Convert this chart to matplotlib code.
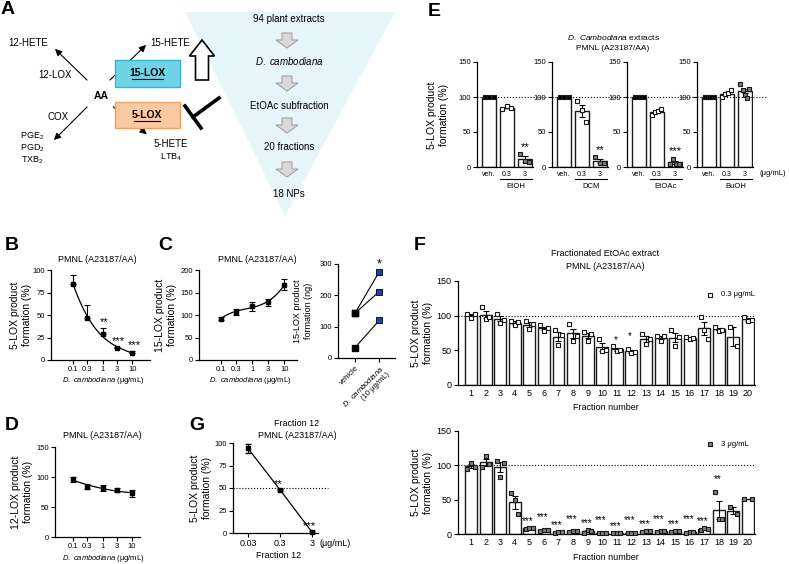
import numpy as np
import matplotlib
matplotlib.use('Agg')
import matplotlib.pyplot as plt
from matplotlib.patches import Polygon, FancyBboxPatch, FancyArrow
from matplotlib.ticker import NullLocator

plt.rcParams['font.family'] = ['Liberation Sans', 'DejaVu Sans']
plt.rcParams['mathtext.fontset'] = 'custom'
plt.rcParams['mathtext.rm'] = 'Liberation Sans'
plt.rcParams['mathtext.it'] = 'Liberation Sans:italic'
plt.rcParams['mathtext.default'] = 'regular'
plt.rcParams['axes.linewidth'] = 0.9

# ---- data ----
conc = [0.1, 0.3, 1, 3, 10]
conc_labels = ['0.1', '0.3', '1', '3', '10']
b_mean = [85, 47, 29, 13, 8]
b_err = [10, 14, 7, 2, 2]
b_sig = ['', '', '**', '***', '***']
c_mean = [92, 106, 120, 128, 167]
c_err = [3, 7, 10, 7, 12]
c_vehicle = [143, 143, 33]
c_dcam = [275, 212, 120]
d_mean = [96, 84, 82, 78, 73]
d_err = [4, 4, 5, 3, 6]
g_conc = [0.03, 0.3, 3]
g_labels = ['0.03', '0.3', '3']
g_mean = [94, 48, 1]
g_err = [5, 1, 1]
g_sig = ['', '**', '***']

e_groups = ['EtOH', 'DCM', 'EtOAc', 'BuOH']
e_veh = [[100, 100, 100], [100, 100, 100], [100, 100, 100, 100], [100, 100, 100, 100, 100]]
e_low = [[83, 87, 85], [94, 81, 65], [75, 78, 80, 83], [100, 104, 106, 110]]
e_high = [[19, 8, 7], [14, 6, 6], [5, 12, 5, 5], [119, 110, 103, 99, 112]]
e_sig = ['**', '**', '***', '']
e_ticks = ['veh.', '0.3', '3']

fractions = list(range(1, 21))
f_low = [[103, 97, 103], [112, 95, 98], [103, 90, 94], [93, 86, 91], [92, 81, 88],
         [86, 78, 82], [79, 58, 72], [88, 64, 71], [76, 64, 74], [67, 49, 50],
         [56, 49, 50], [52, 46, 47], [74, 59, 66], [71, 64, 70], [79, 56, 69],
         [69, 66, 68], [98, 80, 67], [83, 78, 80], [83, 56], [98, 92, 94]]
f_low_sig = [''] * 10 + ['*', '*'] + [''] * 8
f_high = [[95, 104, 97], [97, 114, 102], [106, 83, 104], [60, 49, 29], [7, 9, 9],
          [5, 6, 6], [2, 3, 3], [3, 4, 4], [2, 6, 4], [1, 2, 2],
          [1, 2, 1], [1, 2, 2], [3, 5, 4], [3, 4, 4], [3, 5, 4],
          [2, 3, 3], [6, 9, 8], [61, 22, 22], [39, 29], [51, 51]]
f_high_sig = [''] * 4 + ['***'] * 13 + ['**', '', '']

W, H = 789, 564
fig = plt.figure(figsize=(W / 100, H / 100), dpi=100)


def box(x0, x1, y0, y1):
    return fig.add_axes([x0 / W, 1 - y1 / H, (x1 - x0) / W, (y1 - y0) / H])


def txt(x, y, s, **kw):
    kw.setdefault('ha', 'center')
    kw.setdefault('va', 'center')
    fig.text(x / W, 1 - y / H, s, **kw)


def style(ax, size=5.5):
    ax.spines['top'].set_visible(False)
    ax.spines['right'].set_visible(False)
    ax.tick_params(labelsize=size, length=3, width=0.8, pad=1.5)


# ---- panel A (diagram) ----
a = fig.add_axes([0, 0, 1, 1], zorder=-1)
a.set_xlim(0, W)
a.set_ylim(H, 0)
a.axis('off')
a.add_patch(Polygon([[185, 12], [395, 12], [285, 216]], closed=True, fc='#e6f5f8', ec='none'))
for s, y in [('94 plant extracts', 19), ('$\\it{D.\\ cambodiana}$', 61),
             ('EtOAc subfraction', 106), ('20 fractions', 147), ('18 NPs', 194)]:
    a.text(289, y, s, ha='center', va='center', fontsize=7)
for y in [33, 76, 118, 162]:
    a.add_patch(FancyArrow(287, y, 0, 15, width=10, head_width=22, head_length=8,
                           length_includes_head=True, fc='#d9d9d9', ec='#9a9a9a', lw=0.7))
a.add_patch(FancyArrow(202, 80, 0, -40, width=13, head_width=25, head_length=16,
                       length_includes_head=True, fc='white', ec='black', lw=1.2))
a.plot([219, 193], [98, 117], color='k', lw=2.6)
a.plot([185, 201], [106, 128], color='k', lw=2.6)
arrow = dict(arrowstyle='-|>', color='black', lw=0.8, mutation_scale=10)
for xy, xyt in [((53, 47), (89, 82)), ((148, 43), (108, 82)),
                ((52, 142), (89, 105)), ((149, 136), (111, 105))]:
    a.annotate('', xy=xy, xytext=xyt, arrowprops=arrow)
a.add_patch(FancyBboxPatch((115, 60), 65, 27, boxstyle='square,pad=0', fc='#6fd4e6', ec='#34b6ce', lw=1, zorder=3))
a.add_patch(FancyBboxPatch((115, 102), 65, 26, boxstyle='square,pad=0', fc='#fbc9a2', ec='#f0a264', lw=1, zorder=3))
a.text(147, 73, '15-LOX', ha='center', va='center', fontsize=7.5, fontweight='bold', zorder=4)
a.plot([132, 163], [79, 79], color='k', lw=0.8, zorder=4)
a.text(147, 115, '5-LOX', ha='center', va='center', fontsize=7.5, fontweight='bold', zorder=4)
a.plot([134, 160], [121, 121], color='k', lw=0.8, zorder=4)
a.text(28, 43, '12-HETE', ha='center', va='center', fontsize=7)
a.text(55, 75, '12-LOX', ha='center', va='center', fontsize=7)
a.text(101, 96, 'AA', ha='center', va='center', fontsize=7.5, fontweight='bold')
a.text(170, 43, '15-HETE', ha='center', va='center', fontsize=7)
a.text(58, 117, 'COX', ha='center', va='center', fontsize=7)
for s, y in [('PGE$_2$', 136), ('PGD$_2$', 148), ('TXB$_2$', 160)]:
    a.text(32, y, s, ha='center', va='center', fontsize=6.5)
a.text(171, 144, '5-HETE', ha='center', va='center', fontsize=7)
a.text(171, 157, 'LTB$_4$', ha='center', va='center', fontsize=6.5)


# ---- panels B, C, D, G ----
def dose_panel(ax, mean, err, ylim, yticks, upper_only=False, deg=3):
    style(ax)
    ax.set_xscale('log')
    lo = np.zeros(len(err)) if upper_only else err
    ax.errorbar(conc, mean, yerr=[lo, err], fmt='s', color='k', ms=3.5,
                capsize=2, elinewidth=0.8, capthick=0.8, clip_on=False, zorder=3)
    p = np.polyfit(np.log10(conc), mean, deg)
    xs = np.logspace(np.log10(conc[0]), np.log10(conc[-1]), 100)
    ax.plot(xs, np.polyval(p, np.log10(xs)), color='k', lw=0.9)
    ax.set_ylim(*ylim)
    ax.set_yticks(yticks)
    ax.set_xticks(conc)
    ax.set_xticklabels(conc_labels)
    ax.xaxis.set_minor_locator(NullLocator())


axb = box(51, 150, 270, 360)
dose_panel(axb, b_mean, b_err, (0, 100), [0, 25, 50, 75, 100], upper_only=True)
axb.set_xlim(0.018, 40)
for x, m, e, s in zip(conc, b_mean, b_err, b_sig):
    if s:
        axb.text(x * 1.15, m + e + 1, s, ha='center', va='bottom', fontsize=8)

axc = box(199, 297, 270, 360)
dose_panel(axc, c_mean, c_err, (0, 200), [0, 50, 100, 150, 200])
axc.set_xlim(0.021, 25)

axc2 = box(338, 395, 264, 358)
style(axc2)
for v, d in zip(c_vehicle, c_dcam):
    axc2.plot([0, 1], [v, d], color='k', lw=0.8)
axc2.scatter([0] * len(c_vehicle), c_vehicle, marker='s', s=14, c='k', zorder=3)
axc2.scatter([1] * len(c_dcam), c_dcam, marker='s', s=14, c='#1f3fbf', edgecolors='k', linewidths=0.6, zorder=3, clip_on=False)
axc2.text(1, max(c_dcam) + 5, '*', ha='center', va='bottom', fontsize=9)
axc2.set_xlim(-0.7, 1.65)
axc2.set_ylim(0, 300)
axc2.set_yticks([0, 100, 200, 300])
axc2.set_xticks([0, 1])
axc2.set_xticklabels(['vehicle', '$\\it{D.\\ cambodiana}$\n(10 μg/mL)'], rotation=45,
                     ha='right', rotation_mode='anchor', fontsize=5.5)

axd = box(55, 140, 447, 537)
dose_panel(axd, d_mean, d_err, (0, 150), [0, 50, 100, 150], deg=2)
axd.set_xlim(0.0245, 18.6)

axg = box(233, 318, 443, 533)
style(axg)
axg.set_xscale('log')
axg.errorbar(g_conc, g_mean, yerr=g_err, fmt='s-', color='k', ms=3.5, lw=0.9,
             capsize=2, elinewidth=0.8, clip_on=False, zorder=3)
axg.axhline(50, xmin=0, xmax=1.12, color='k', ls=':', lw=0.8, clip_on=False)
axg.set_xlim(0.0102, 4.62)
axg.set_ylim(0, 100)
axg.set_yticks([0, 25, 50, 75, 100])
axg.set_xticks(g_conc)
axg.set_xticklabels(g_labels, fontsize=6.5)
axg.xaxis.set_minor_locator(NullLocator())
for x, m, s in zip(g_conc, g_mean, g_sig):
    if s:
        axg.text(x * 0.85, m + 1, s, ha='center', va='bottom', fontsize=8)


# ---- bars with points ----
def bar_points(ax, x, pts, face, width=0.8, ms=12):
    pts = np.array(pts, dtype=float)
    m = pts.mean()
    se = pts.std(ddof=1) / np.sqrt(len(pts)) if len(pts) > 1 else 0
    ax.bar(x, m, width=width, fc='white', ec='#1a1a1a', lw=1.0, zorder=1)
    if se > 0:
        ax.errorbar(x, m, yerr=se, color='k', capsize=2, elinewidth=0.8, capthick=0.8, zorder=2)
    offs = np.linspace(-0.25, 0.25, len(pts)) if len(pts) > 1 else [0]
    ax.scatter(x + np.array(offs), pts, marker='s', s=ms, fc=face, ec='#1a1a1a', lw=0.8, zorder=3, clip_on=False)
    return m + se, pts.max()


e_left = [477, 552, 627, 697]
for i, g in enumerate(e_groups):
    ax = box(e_left[i], e_left[i] + 56, 62, 167)
    style(ax)
    bar_points(ax, 0, e_veh[i], 'k')
    bar_points(ax, 1, e_low[i], 'white')
    top, mx = bar_points(ax, 2, e_high[i], '#7f7f7f')
    if e_sig[i]:
        ax.text(2, mx + 3, e_sig[i], ha='center', va='bottom', fontsize=8)
    ax.axhline(100, color='k', ls=':', lw=0.8, xmax=1.25, clip_on=False)
    ax.set_xlim(-0.67, 2.45)
    ax.set_ylim(0, 150)
    ax.set_yticks([0, 50, 100, 150])
    ax.set_xticks([0, 1, 2])
    ax.set_xticklabels(e_ticks, fontsize=5)
    ax.tick_params(axis='x', length=0, pad=3)
    ax.plot([0.6, 2.4], [-0.115, -0.115], color='k', lw=0.8,
            transform=ax.get_xaxis_transform(), clip_on=False)
    ax.text(1.5, -0.19, g, ha='center', va='center', fontsize=5.5,
            transform=ax.get_xaxis_transform())
txt(760, 173, '(μg/mL)', fontsize=5.5, ha='left')

# ---- panel F ----
for (y0, y1), data, sig, face, lab in [((281, 385), f_low, f_low_sig, 'white', '0.3 μg/mL'),
                                       ((431, 534), f_high, f_high_sig, '#7f7f7f', '3 μg/mL')]:
    ax = box(458, 755, y0, y1)
    style(ax, 6.5)
    for k, (x, pts, s) in enumerate(zip(fractions, data, sig)):
        top, mx = bar_points(ax, x, pts, face, width=0.82, ms=10)
        if s:
            ax.text(x - 0.1, max(top, mx) + 2 + 9 * (k % 2), s, ha='center', va='bottom', fontsize=7)
    ax.axhline(100, color='k', ls=':', lw=0.8)
    ax.set_xlim(0.108, 20.48)
    ax.set_ylim(0, 150)
    ax.set_yticks([0, 50, 100, 150])
    ax.set_xticks(fractions)
    ax.tick_params(axis='x', length=0, pad=3)
    ax.scatter([0.85], [0.87], marker='s', s=12, fc=face, ec='#1a1a1a', lw=0.8, transform=ax.transAxes)
    ax.text(0.885, 0.87, lab, fontsize=5.5, va='center', transform=ax.transAxes)
    txt(606, y1 + 23, 'Fraction number', fontsize=6.5)
    txt(422, (y0 + y1) / 2, '5-LOX product\nformation (%)', rotation=90, fontsize=7.5)

# ---- text labels ----
for s, x, y in [('A', 8, 10), ('B', 12, 245), ('C', 165, 245), ('D', 12, 425),
                ('G', 197, 425), ('E', 434, 12), ('F', 420, 245)]:
    txt(x, y, s, fontsize=14, fontweight='bold')
pm = 'PMNL (A23187/AA)'
txt(97, 260, pm, fontsize=6.5)
txt(257, 260, pm, fontsize=6.5)
txt(102, 435, pm, fontsize=6.5)
txt(297, 423, 'Fraction 12', fontsize=6.5)
txt(297, 435, pm, fontsize=6.5)
txt(613, 37, '$\\it{D.\\ Cambodiana}$ extracts', fontsize=6)
txt(613, 48, pm, fontsize=6)
txt(605, 254, 'Fractionated EtOAc extract', fontsize=6.5)
txt(605, 267, pm, fontsize=6.5)
xl = '$\\it{D.\\ cambodiana}$ (μg/mL)'
txt(103, 381, xl, fontsize=5.5)
txt(250, 381, xl, fontsize=5.5)
txt(103, 558, xl, fontsize=5.5)
txt(279, 555, 'Fraction 12', fontsize=6.5)
txt(320, 543, '(μg/mL)', fontsize=6.5, ha='left')
txt(21, 315, '5-LOX product\nformation (%)', rotation=90, fontsize=7.5)
txt(166, 315, '15-LOX product\nformation (%)', rotation=90, fontsize=7.5)
txt(303, 311, '15-LOX product\nformation (ng)', rotation=90, fontsize=6.5)
txt(22, 492, '12-LOX product\nformation (%)', rotation=90, fontsize=7.5)
txt(201, 488, '5-LOX product\nformation (%)', rotation=90, fontsize=7.5)
txt(438, 115, '5-LOX product\nformation (%)', rotation=90, fontsize=7.5)

fig.savefig('out.png', dpi=100)
